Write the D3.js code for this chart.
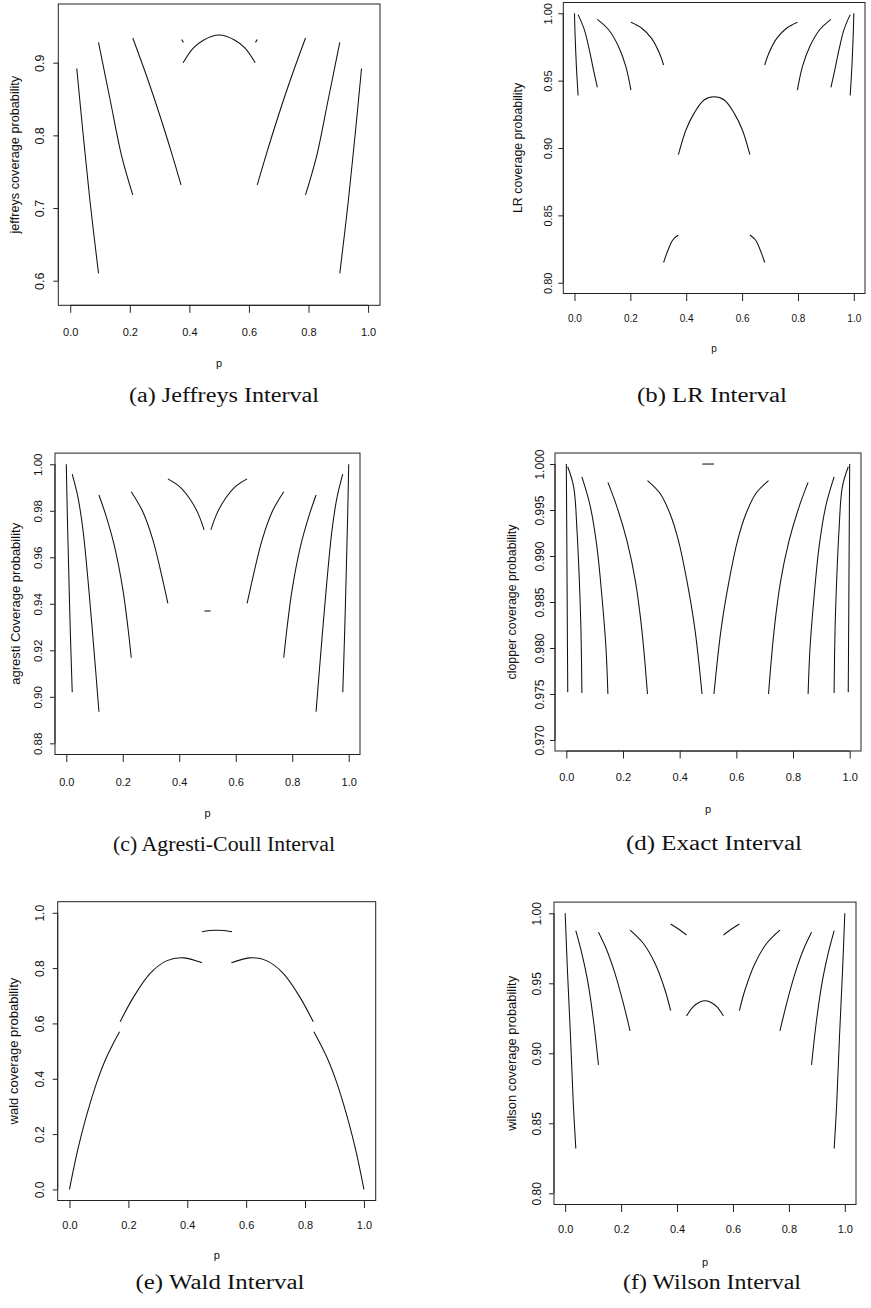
<!DOCTYPE html>
<html><head><meta charset="utf-8">
<script src="https://cdn.jsdelivr.net/npm/d3@7"></script>
<style>body{margin:0;background:#fff}</style>
</head><body>
<svg id="chart" width="871" height="1308" xmlns="http://www.w3.org/2000/svg"></svg>
<script>
// ---------------- DATA ----------------
const xTicks = [0, 0.2, 0.4, 0.6, 0.8, 1.0];
const xTickLabels = ["0.0", "0.2", "0.4", "0.6", "0.8", "1.0"];
const xTitle = "p";

// (a) Jeffreys
const jeffreysTicks = [0.6, 0.7, 0.8, 0.9];
const jeffreysTickLabels = ["0.6", "0.7", "0.8", "0.9"];
const jeffreysSegments = [
  [[0.022,0.892],[0.043,0.803],[0.066,0.711],[0.095,0.610]],
  [[0.095,0.928],[0.134,0.849],[0.173,0.771],[0.210,0.718]],
  [[0.210,0.934],[0.257,0.881],[0.302,0.826],[0.341,0.775],[0.372,0.732]],
  [[0.374,0.932],[0.380,0.928]],
  [[0.379,0.900],[0.413,0.920],[0.447,0.931],[0.500,0.938],[0.553,0.931],[0.587,0.920],[0.621,0.900]],
  [[0.622,0.928],[0.628,0.932]],
  [[0.628,0.732],[0.659,0.775],[0.698,0.826],[0.743,0.881],[0.790,0.934]],
  [[0.790,0.718],[0.827,0.771],[0.866,0.849],[0.905,0.928]],
  [[0.905,0.610],[0.934,0.711],[0.957,0.803],[0.978,0.892]]
];

// (b) LR
const lrTicks = [0.80, 0.85, 0.90, 0.95, 1.00];
const lrTickLabels = ["0.80", "0.85", "0.90", "0.95", "1.00"];
const lrSegments = [
  [[0.000,1.000],[0.002,0.985],[0.007,0.960],[0.013,0.939]],
  [[0.013,0.999],[0.035,0.988],[0.053,0.973],[0.068,0.958],[0.082,0.945]],
  [[0.082,0.9955],[0.123,0.9876],[0.158,0.9752],[0.184,0.9604],[0.202,0.943]],
  [[0.202,0.9933],[0.241,0.9889],[0.276,0.9814],[0.305,0.970],[0.319,0.9616]],
  [[0.319,0.815],[0.335,0.8243],[0.352,0.8317],[0.372,0.8354]],
  [[0.372,0.895],[0.399,0.9134],[0.428,0.9257],[0.464,0.9356],[0.500,0.938],[0.536,0.9356],[0.572,0.9257],[0.601,0.9134],[0.628,0.895]],
  [[0.628,0.8354],[0.648,0.8317],[0.665,0.8243],[0.681,0.815]],
  [[0.681,0.9616],[0.695,0.970],[0.724,0.9814],[0.759,0.9889],[0.798,0.9933]],
  [[0.798,0.943],[0.816,0.9604],[0.842,0.9752],[0.877,0.9876],[0.918,0.9955]],
  [[0.918,0.945],[0.932,0.958],[0.947,0.973],[0.965,0.988],[0.987,0.999]],
  [[0.987,0.939],[0.993,0.960],[0.998,0.985],[1.000,1.000]]
];

// (c) Agresti-Coull
const agrestiTicks = [0.88, 0.90, 0.92, 0.94, 0.96, 0.98, 1.00];
const agrestiTickLabels = ["0.88", "0.90", "0.92", "0.94", "0.96", "0.98", "1.00"];
const agrestiSegments = [
  [[0.000,1.000],[0.0035,0.979],[0.008,0.957],[0.014,0.929],[0.021,0.902]],
  [[0.021,0.9958],[0.041,0.986],[0.059,0.9718],[0.077,0.950],[0.097,0.9216],[0.1156,0.8936]],
  [[0.1156,0.9868],[0.1415,0.9775],[0.171,0.9646],[0.2005,0.946],[0.218,0.930],[0.230,0.9168]],
  [[0.230,0.9882],[0.271,0.9796],[0.3066,0.9675],[0.336,0.9531],[0.3597,0.9402]],
  [[0.3597,0.9937],[0.401,0.9904],[0.436,0.9854],[0.466,0.979],[0.488,0.9718]],
  [[0.489,0.9369],[0.511,0.9369]],
  [[0.512,0.9718],[0.534,0.979],[0.564,0.9854],[0.599,0.9904],[0.6403,0.9937]],
  [[0.6403,0.9402],[0.664,0.9531],[0.6934,0.9675],[0.729,0.9796],[0.770,0.9882]],
  [[0.770,0.9168],[0.782,0.930],[0.7995,0.946],[0.829,0.9646],[0.8585,0.9775],[0.8844,0.9868]],
  [[0.8844,0.8936],[0.903,0.9216],[0.923,0.950],[0.941,0.9718],[0.959,0.986],[0.979,0.9958]],
  [[0.979,0.902],[0.986,0.929],[0.992,0.957],[0.9965,0.979],[1.000,1.000]]
];

// (d) Exact (Clopper-Pearson)
const clopperTicks = [0.970, 0.975, 0.980, 0.985, 0.990, 0.995, 1.000];
const clopperTickLabels = ["0.970", "0.975", "0.980", "0.985", "0.990", "0.995", "1.000"];
const clopperSegments = [
  [[0.000,1.000],[0.002,0.990],[0.004,0.980],[0.005,0.9752]],
  [[0.005,0.9997],[0.026,0.9975],[0.0376,0.9928],[0.0458,0.9874],[0.0516,0.982],[0.055,0.9751]],
  [[0.055,0.9986],[0.0845,0.9954],[0.108,0.991],[0.1256,0.9856],[0.1397,0.9801],[0.1467,0.975]],
  [[0.1467,0.998],[0.178,0.9954],[0.2136,0.9917],[0.243,0.9874],[0.2664,0.982],[0.2864,0.975]],
  [[0.2864,0.9982],[0.331,0.9968],[0.366,0.9946],[0.3955,0.9917],[0.425,0.9874],[0.454,0.982],[0.479,0.975]],
  [[0.480,1.000],[0.521,1.000]],
  [[0.521,0.975],[0.546,0.982],[0.575,0.9874],[0.6045,0.9917],[0.634,0.9946],[0.669,0.9968],[0.7136,0.9982]],
  [[0.7136,0.975],[0.7336,0.982],[0.757,0.9874],[0.7864,0.9917],[0.822,0.9954],[0.8533,0.998]],
  [[0.8533,0.975],[0.8603,0.9801],[0.8744,0.9856],[0.892,0.991],[0.9155,0.9954],[0.945,0.9986]],
  [[0.945,0.9751],[0.9484,0.982],[0.9542,0.9874],[0.9624,0.9928],[0.974,0.9975],[0.995,0.9997]],
  [[0.995,0.9752],[0.996,0.980],[0.998,0.990],[1.000,1.000]]
];

// (e) Wald
const waldTicks = [0.0, 0.2, 0.4, 0.6, 0.8, 1.0];
const waldTickLabels = ["0.0", "0.2", "0.4", "0.6", "0.8", "1.0"];
const waldSegments = [
  [[0.000,0.000],[0.015,0.080],[0.030,0.152],[0.050,0.236],[0.070,0.311],[0.093,0.388],[0.121,0.466],[0.150,0.530],[0.170,0.570]],
  [[0.172,0.606],[0.218,0.696],[0.274,0.781],[0.331,0.827],[0.388,0.837],[0.450,0.819]],
  [[0.450,0.931],[0.475,0.936],[0.500,0.937],[0.525,0.936],[0.552,0.931]],
  [[0.550,0.819],[0.612,0.837],[0.669,0.827],[0.726,0.781],[0.782,0.696],[0.828,0.606]],
  [[0.830,0.570],[0.850,0.530],[0.879,0.466],[0.907,0.388],[0.930,0.311],[0.950,0.236],[0.970,0.152],[0.985,0.080],[1.000,0.000]]
];

// (f) Wilson
const wilsonTicks = [0.80, 0.85, 0.90, 0.95, 1.00];
const wilsonTickLabels = ["0.80", "0.85", "0.90", "0.95", "1.00"];
const wilsonSegments = [
  [[0.000,1.000],[0.008,0.9595],[0.019,0.912],[0.029,0.864],[0.038,0.832]],
  [[0.038,0.9876],[0.0595,0.9714],[0.0797,0.9524],[0.101,0.9238],[0.119,0.8917]],
  [[0.119,0.9864],[0.1486,0.9738],[0.178,0.9571],[0.208,0.9357],[0.232,0.916]],
  [[0.232,0.988],[0.279,0.9786],[0.321,0.9643],[0.357,0.9452],[0.377,0.9305]],
  [[0.377,0.9924],[0.405,0.9888],[0.434,0.9845]],
  [[0.434,0.9267],[0.458,0.9333],[0.4816,0.9367],[0.500,0.9376],[0.5184,0.9367],[0.542,0.9333],[0.566,0.9267]],
  [[0.566,0.9845],[0.595,0.9888],[0.623,0.9924]],
  [[0.623,0.9305],[0.643,0.9452],[0.679,0.9643],[0.721,0.9786],[0.768,0.988]],
  [[0.768,0.916],[0.792,0.9357],[0.822,0.9571],[0.8514,0.9738],[0.881,0.9864]],
  [[0.881,0.8917],[0.899,0.9238],[0.9203,0.9524],[0.9405,0.9714],[0.962,0.9876]],
  [[0.962,0.832],[0.971,0.864],[0.981,0.912],[0.992,0.9595],[1.000,1.000]]
];

const yTitles = ["jeffreys coverage probability", "LR coverage probability",
  "agresti Coverage probability", "clopper coverage probability",
  "wald coverage probability", "wilson coverage probability"];
const captions = ["(a) Jeffreys Interval", "(b) LR Interval", "(c) Agresti-Coull Interval",
  "(d) Exact Interval", "(e) Wald Interval", "(f) Wilson Interval"];

// ---------------- LAYOUT ----------------
const panels = [
  {seg: jeffreysSegments, ticks: jeffreysTicks, labels: jeffreysTickLabels,
   box: [58.3, 380, 4, 305.3], yDom: [0.56615, 0.98078],
   ylabOff: 18.3, ytitleX: 15, xlabOff: 26.7, pOff: 57.7, xfs: 11, yfs: 12.5, tfs: 12.7,
   cap: [224, 395, 190]},
  {seg: lrSegments, ticks: lrTicks, labels: lrTickLabels,
   box: [563.3, 865, 2.5, 293.5], yDom: [0.792, 1.008],
   ylabOff: 15, ytitleX: 518.3, xlabOff: 24.7, pOff: 55, xfs: 10, yfs: 11, tfs: 12.4,
   cap: [712, 395, 150]},
  {seg: agrestiSegments, ticks: agrestiTicks, labels: agrestiTickLabels,
   box: [55, 360, 453.1, 754.5], yDom: [0.8752, 1.0048],
   ylabOff: 16.7, ytitleX: 15, xlabOff: 27.3, pOff: 58.3, xfs: 11, yfs: 11.5, tfs: 13,
   cap: [224, 844, 222]},
  {seg: clopperSegments, ticks: clopperTicks, labels: clopperTickLabels,
   box: [555, 861, 453, 751], yDom: [0.9688, 1.0012],
   ylabOff: 15, ytitleX: 511.7, xlabOff: 26.3, pOff: 58, xfs: 11, yfs: 12, tfs: 12.4,
   cap: [714, 843, 176]},
  {seg: waldSegments, ticks: waldTicks, labels: waldTickLabels,
   box: [57.7, 375.7, 901.7, 1200.5], yDom: [-0.04, 1.04],
   ylabOff: 17.7, ytitleX: 13.3, xlabOff: 24.5, pOff: 54.5, xfs: 11, yfs: 12, tfs: 13,
   cap: [220, 1282, 169]},
  {seg: wilsonSegments, ticks: wilsonTicks, labels: wilsonTickLabels,
   box: [554, 856, 902.1, 1204.5], yDom: [0.792, 1.008],
   ylabOff: 16.7, ytitleX: 511, xlabOff: 24.5, pOff: 57, xfs: 11, yfs: 12, tfs: 12.9,
   cap: [712, 1282, 178]}
];

const SANS = "'Liberation Sans', Arial, Helvetica, sans-serif";
const SERIF = "'Liberation Serif', 'Times New Roman', serif";
const svg = d3.select("#chart");

panels.forEach((P, i) => {
  const [L, R, T, B] = P.box;
  const x = d3.scaleLinear().domain([-0.04, 1.04]).range([L, R]);
  const y = d3.scaleLinear().domain(P.yDom).range([B, T]);
  const g = svg.append("g");

  // x axis
  const xTickLen = 7.5;
  const xa = g.append("g").attr("transform", `translate(0,${B})`)
    .call(d3.axisBottom(x).tickValues(xTicks).tickSize(xTickLen).tickSizeOuter(0)
      .tickFormat((d, k) => xTickLabels[k]));
  xa.select(".domain").attr("d", `M${x(xTicks[0])},0H${x(xTicks[xTicks.length-1])}`);
  xa.selectAll("line").attr("stroke", "#222");
  xa.selectAll("text").attr("y", P.xlabOff).attr("dy", null)
    .attr("dominant-baseline", "central")
    .style("font-family", SANS).style("font-size", P.xfs + "px").attr("fill", "#111");

  // y axis
  const ya = g.append("g").attr("transform", `translate(${L},0)`)
    .call(d3.axisLeft(y).tickValues(P.ticks).tickSize(5).tickSizeOuter(0)
      .tickFormat((d, k) => P.labels[k]));
  ya.select(".domain").attr("d", `M0,${y(P.ticks[0])}V${y(P.ticks[P.ticks.length-1])}`);
  ya.selectAll("line").attr("stroke", "#222");
  ya.selectAll("text").attr("x", null).attr("dy", null)
    .attr("transform", `translate(${-P.ylabOff},0) rotate(-90)`)
    .attr("text-anchor", "middle").attr("dominant-baseline", "central")
    .style("font-family", SANS).style("font-size", P.yfs + "px").attr("fill", "#111");
  g.selectAll(".domain").attr("stroke", "#222");

  // box
  g.append("rect").attr("x", L).attr("y", T).attr("width", R - L).attr("height", B - T)
    .attr("fill", "none").attr("stroke", "#222").attr("stroke-width", 1);

  // curves
  const line = d3.line().x(d => x(d[0])).y(d => y(d[1])).curve(d3.curveCatmullRom.alpha(0.5));
  g.append("g").selectAll("path").data(P.seg).join("path")
    .attr("d", line).attr("fill", "none").attr("stroke", "#111").attr("stroke-width", 1.05);

  // titles
  g.append("text").attr("x", (x(0) + x(1)) / 2).attr("y", B + P.pOff)
    .attr("text-anchor", "middle").attr("dominant-baseline", "central")
    .style("font-family", SANS).style("font-size", P.xfs + "px").attr("fill", "#111")
    .text(xTitle);
  g.append("text")
    .attr("transform", `translate(${P.ytitleX},${(T + B) / 2}) rotate(-90)`)
    .attr("text-anchor", "middle").attr("dominant-baseline", "central")
    .style("font-family", SANS).style("font-size", P.tfs + "px").attr("fill", "#111")
    .text(yTitles[i]);

  // caption
  const [cx, cy, cw] = P.cap;
  g.append("text").attr("x", cx - cw / 2).attr("y", cy + 6.5)
    .attr("textLength", cw).attr("lengthAdjust", "spacingAndGlyphs")
    .style("font-family", SERIF).style("font-size", "20px").attr("fill", "#111")
    .text(captions[i]);
});
</script>
</body></html>
